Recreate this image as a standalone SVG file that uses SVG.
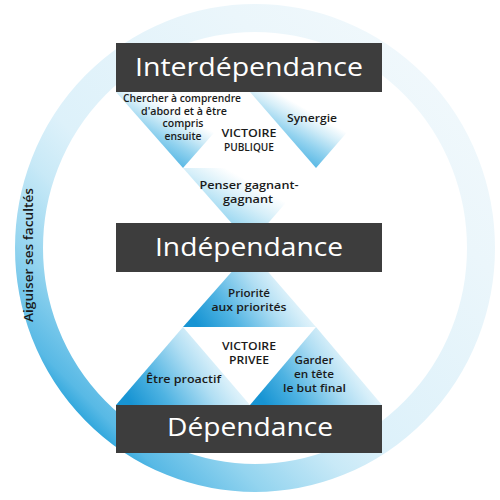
<svg xmlns="http://www.w3.org/2000/svg" width="500" height="500" viewBox="0 0 500 500">
  <defs>
    <linearGradient id="gRing" gradientUnits="userSpaceOnUse" x1="80" y1="420" x2="430" y2="70">
      <stop offset="0" stop-color="#2aa4db"/>
      <stop offset="0.04" stop-color="#58b9e5"/>
      <stop offset="0.16" stop-color="#93d4ef"/>
      <stop offset="0.3" stop-color="#c8e9f7"/>
      <stop offset="0.4" stop-color="#ddf1fa"/>
      <stop offset="0.8" stop-color="#ebf6fb"/>
      <stop offset="1" stop-color="#f0f8fc"/>
    </linearGradient>
    <linearGradient id="gTop" x1="0" y1="1" x2="1" y2="0">
      <stop offset="0.25" stop-color="#5ab9e5"/>
      <stop offset="0.38" stop-color="#94d3ef"/>
      <stop offset="0.5" stop-color="#d3edf8"/>
      <stop offset="0.6" stop-color="#ffffff"/>
    </linearGradient>
    <linearGradient id="gMid" x1="0" y1="1" x2="1" y2="0">
      <stop offset="0.25" stop-color="#86cfee"/>
      <stop offset="0.5" stop-color="#d6eff9"/>
      <stop offset="0.66" stop-color="#ffffff"/>
    </linearGradient>
    <linearGradient id="gBot" x1="0" y1="0.7" x2="1" y2="0.3">
      <stop offset="0" stop-color="#1794d3"/>
      <stop offset="0.25" stop-color="#4fb3e2"/>
      <stop offset="0.55" stop-color="#b0def3"/>
      <stop offset="0.7" stop-color="#d5eef9"/>
      <stop offset="0.9" stop-color="#ffffff"/>
    </linearGradient>
    <style>
      .box { fill: #3d3d3d; }
      .title { font-family: "Open Sans", "Noto Sans", sans-serif; font-size: 26px; fill: #ffffff; text-anchor: middle; }
      .lbl { font-family: "Open Sans", "Noto Sans", sans-serif; font-size: 10.5px; font-weight: 600; fill: #1a1a1a; text-anchor: middle; }
      .vic { font-family: "Open Sans", "Noto Sans", sans-serif; font-size: 11px; font-weight: 600; fill: #1a1a1a; text-anchor: middle; }
      .ring { fill: none; stroke: url(#gRing); stroke-width: 28; }
      .side { font-family: "Open Sans", "Noto Sans", sans-serif; font-size: 13px; font-weight: 600; fill: #1a1a1a; text-anchor: middle; }
    </style>
  </defs>

  <g id="ring">
    <ellipse class="ring" cx="255" cy="248" rx="226" ry="230"/>
    <text class="side" transform="translate(33,255) rotate(-90)" textLength="134" lengthAdjust="spacingAndGlyphs">Aiguiser ses facultés</text>
  </g>

  <g id="chercher">
    <polygon points="116,92 250,92 183,168" fill="url(#gTop)"/>
    <text class="lbl" x="182" y="102" textLength="118" lengthAdjust="spacingAndGlyphs">Chercher à comprendre</text>
    <text class="lbl" x="184" y="114.5" textLength="86" lengthAdjust="spacingAndGlyphs">d'abord et à être</text>
    <text class="lbl" x="183" y="127" textLength="41" lengthAdjust="spacingAndGlyphs">compris</text>
    <text class="lbl" x="183" y="139.5" textLength="37" lengthAdjust="spacingAndGlyphs">ensuite</text>
  </g>
  <g id="synergie">
    <polygon points="250,92 382,92 316,168" fill="url(#gTop)"/>
    <text class="lbl" x="312" y="122" textLength="50" lengthAdjust="spacingAndGlyphs">Synergie</text>
  </g>
  <g id="victoire-publique">
    <text class="vic" x="249" y="137" textLength="55" lengthAdjust="spacingAndGlyphs">VICTOIRE</text>
    <text class="vic" x="249" y="151" textLength="50" lengthAdjust="spacingAndGlyphs">PUBLIQUE</text>
  </g>
  <g id="penser">
    <polygon points="183,168 316,168 250,244" fill="url(#gMid)"/>
    <text class="lbl" x="249" y="189" textLength="99" lengthAdjust="spacingAndGlyphs">Penser gagnant-</text>
    <text class="lbl" x="248" y="203" textLength="50" lengthAdjust="spacingAndGlyphs">gagnant</text>
  </g>

  <g id="priorite">
    <polygon points="183,327 316,327 250,251" fill="url(#gBot)"/>
    <text class="lbl" x="249" y="297" textLength="42" lengthAdjust="spacingAndGlyphs">Priorité</text>
    <text class="lbl" x="249" y="310.5" textLength="75" lengthAdjust="spacingAndGlyphs">aux priorités</text>
  </g>
  <g id="victoire-privee">
    <text class="vic" x="249" y="350" textLength="54" lengthAdjust="spacingAndGlyphs">VICTOIRE</text>
    <text class="vic" x="249" y="364" textLength="40" lengthAdjust="spacingAndGlyphs">PRIVEE</text>
  </g>
  <g id="proactif">
    <polygon points="116,405 250,405 183,327" fill="url(#gBot)"/>
    <text class="lbl" x="183.5" y="383" textLength="75" lengthAdjust="spacingAndGlyphs">Être proactif</text>
  </g>
  <g id="garder">
    <polygon points="250,405 382,405 316,327" fill="url(#gBot)"/>
    <text class="lbl" x="314" y="364" textLength="39" lengthAdjust="spacingAndGlyphs">Garder</text>
    <text class="lbl" x="314" y="377.5" textLength="40" lengthAdjust="spacingAndGlyphs">en tête</text>
    <text class="lbl" x="314.5" y="391.5" textLength="63" lengthAdjust="spacingAndGlyphs">le but final</text>
  </g>

  <g id="interdependance">
    <rect class="box" x="116" y="43" width="266" height="49"/>
    <text class="title" x="249" y="76" textLength="228" lengthAdjust="spacingAndGlyphs">Interdépendance</text>
  </g>
  <g id="independance">
    <rect class="box" x="116" y="223" width="266" height="49"/>
    <text class="title" x="249" y="256" textLength="188" lengthAdjust="spacingAndGlyphs">Indépendance</text>
  </g>
  <g id="dependance">
    <rect class="box" x="116" y="405" width="266" height="48"/>
    <text class="title" x="250" y="436" textLength="166" lengthAdjust="spacingAndGlyphs">Dépendance</text>
  </g>

  <g id="connectors"/>
</svg>
